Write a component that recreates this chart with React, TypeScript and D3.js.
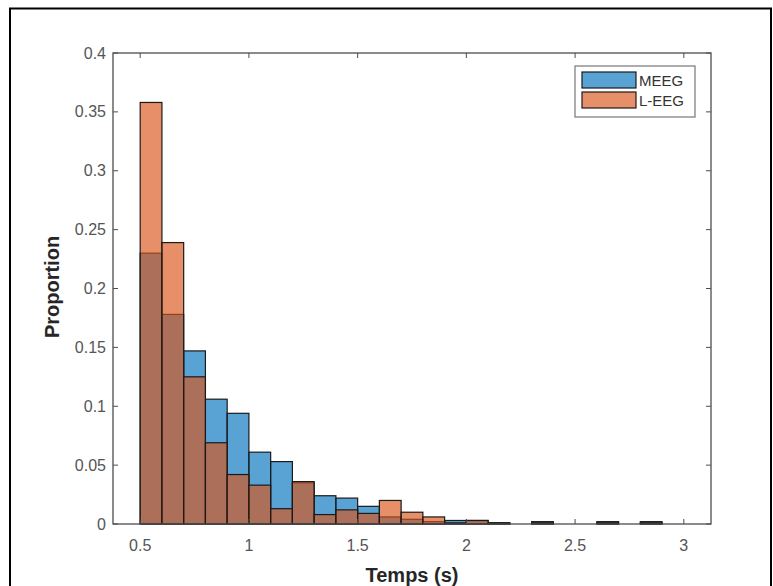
import React from "react";
import * as d3 from "d3";

const binStart = 0.5;
const binWidth = 0.1;
const meeg = [0.230, 0.178, 0.147, 0.106, 0.094, 0.061, 0.053, 0.035, 0.024, 0.022, 0.015, 0.006, 0.004, 0.002, 0.003, 0.003, 0.001, 0, 0.002, 0, 0, 0.002, 0, 0.002];
const leeg = [0.358, 0.239, 0.125, 0.069, 0.042, 0.033, 0.013, 0.036, 0.008, 0.012, 0.009, 0.020, 0.010, 0.006, 0.001, 0.003, 0.001, 0, 0.001, 0, 0, 0.001, 0, 0.001];
const xTicks = [0.5, 1, 1.5, 2, 2.5, 3];
const yTicks = [0, 0.05, 0.1, 0.15, 0.2, 0.25, 0.3, 0.35, 0.4];
const seriesNames = ["MEEG", "L-EEG"];
const seriesColors = ["#0072BD", "#D95319"];
const xLabel = "Temps (s)";
const yLabel = "Proportion";

export default function App() {
  const W = 773, H = 586;
  const left = 113, right = 711, top = 53, bottom = 524;
  const x = d3.scaleLinear().domain([0.375, 3.125]).range([left, right]);
  const y = d3.scaleLinear().domain([0, 0.4]).range([bottom, top]);
  const font = "Liberation Sans, Arial, Helvetica, sans-serif";
  const series = [meeg, leeg];
  const axisColor = "#4d4d4d";
  const tickColor = "#555";

  return (
    <svg width={W} height={H} style={{ position: "absolute", left: 0, top: 0, background: "#fff" }}>
      <rect x={0} y={0} width={W} height={H} fill="#fff" />
      <rect x={10} y={8.5} width={761} height={620} fill="none" stroke="#000" strokeWidth={2} />
      {series.map((vals, si) => (
        <g key={si}>
          {vals.map((v, i) =>
            v > 0 ? (
              <rect
                key={i}
                x={x(binStart + i * binWidth)}
                y={y(v)}
                width={x(binStart + (i + 1) * binWidth) - x(binStart + i * binWidth)}
                height={y(0) - y(v)}
                fill={seriesColors[si]}
                fillOpacity={0.65}
                stroke="#1a1a1a"
                strokeWidth={1.2}
              />
            ) : null
          )}
        </g>
      ))}
      {/* axes box */}
      <rect x={left} y={top} width={right - left} height={bottom - top} fill="none" stroke={axisColor} strokeWidth={1.3} />
      {xTicks.map((t) => (
        <g key={"x" + t}>
          <line x1={x(t)} x2={x(t)} y1={bottom} y2={bottom - 5} stroke={axisColor} />
          <line x1={x(t)} x2={x(t)} y1={top} y2={top + 5} stroke={axisColor} />
          <text x={x(t)} y={551} textAnchor="middle" fontFamily={font} fontSize={16} fill={tickColor}>
            {d3.format("~g")(t)}
          </text>
        </g>
      ))}
      {yTicks.map((t) => (
        <g key={"y" + t}>
          <line x1={left} x2={left + 5} y1={y(t)} y2={y(t)} stroke={axisColor} />
          <line x1={right} x2={right - 5} y1={y(t)} y2={y(t)} stroke={axisColor} />
          <text x={106} y={y(t) + 5.5} textAnchor="end" fontFamily={font} fontSize={16} fill={tickColor}>
            {d3.format("~g")(t)}
          </text>
        </g>
      ))}
      <text x={412} y={582} textAnchor="middle" fontFamily={font} fontSize={20} fontWeight="bold" fill="#262626">
        {xLabel}
      </text>
      <text
        transform={`translate(59,287) rotate(-90)`}
        textAnchor="middle"
        fontFamily={font}
        fontSize={20}
        fontWeight="bold"
        fill="#262626"
      >
        {yLabel}
      </text>
      {/* legend */}
      <rect x={575} y={66} width={120} height={51} fill="#fff" stroke="#777" strokeWidth={1.2} />
      {seriesNames.map((n, i) => (
        <g key={n}>
          <rect x={582} y={72 + i * 20} width={54} height={16} fill={seriesColors[i]} fillOpacity={0.65} stroke="#1a1a1a" strokeWidth={1.2} />
          <text x={639} y={86 + i * 20} fontFamily={font} fontSize={15} fill="#333">
            {n}
          </text>
        </g>
      ))}
    </svg>
  );
}
